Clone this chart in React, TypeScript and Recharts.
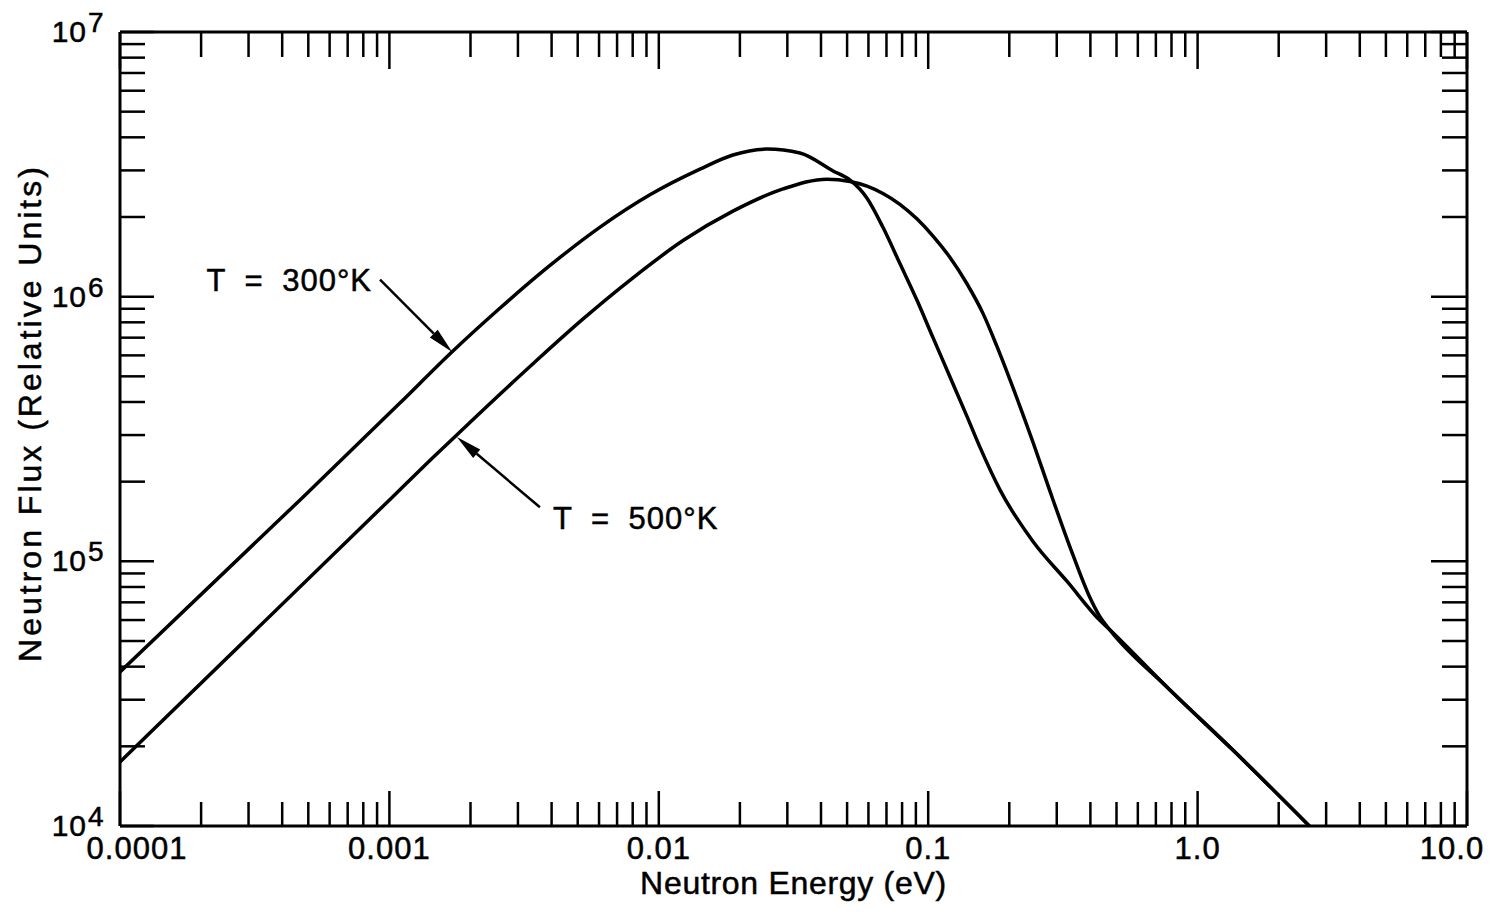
import { LineChart, Line, XAxis, YAxis, ReferenceLine } from 'recharts';

const FONT = '"Liberation Sans", Arial, Helvetica, sans-serif';

// T = 300 K spectrum
const energy300 = [0.0001, 0.000466, 0.001094, 0.001706, 0.002576, 0.003945, 0.006053, 0.00927, 0.01422, 0.01884, 0.02523, 0.03342, 0.04436, 0.05129, 0.05929, 0.06792, 0.07852, 0.09078, 0.1042, 0.1205, 0.1393, 0.1556, 0.1849, 0.2449, 0.3273, 0.4345, 0.4732, 0.7691, 1.352, 2.6];
const flux300 = [3.82e4, 1.706e5, 3.963e5, 6.18e5, 9.06e5, 1.312e6, 1.832e6, 2.427e6, 3.034e6, 3.43e6, 3.61e6, 3.49e6, 2.985e6, 2.754e6, 2.355e6, 1.828e6, 1.334e6, 9.71e5, 7.0e5, 4.97e5, 3.53e5, 2.7e5, 1.858e5, 1.189e5, 8.41e4, 5.97e4, 5.5e4, 3.35e4, 1.936e4, 1.0e4];

// T = 500 K spectrum
const energy500 = [0.0001, 0.001005, 0.001416, 0.001782, 0.003412, 0.005236, 0.008017, 0.0123, 0.01884, 0.02891, 0.04207, 0.05129, 0.05929, 0.06792, 0.07852, 0.09078, 0.1042, 0.1205, 0.1393, 0.16, 0.1795, 0.2014, 0.2449, 0.2831, 0.3443, 0.3936, 0.4345, 0.4732, 0.7691, 1.352, 2.6];
const flux500 = [1.746e4, 1.714e5, 2.407e5, 3.009e5, 5.58e5, 8.24e5, 1.178e6, 1.629e6, 2.104e6, 2.553e6, 2.78e6, 2.723e6, 2.618e6, 2.455e6, 2.234e6, 1.968e6, 1.694e6, 1.406e6, 1.119e6, 8.61e5, 6.53e5, 4.84e5, 2.818e5, 1.841e5, 1.059e5, 7.5e4, 6.17e4, 5.5e4, 3.35e4, 1.936e4, 1.0e4];

const xMajors = [0.0001, 0.001, 0.01, 0.1, 1, 10];
const xMajorLabels = ['0.0001', '0.001', '0.01', '0.1', '1.0', '10.0'];
const yMajors = [1e4, 1e5, 1e6, 1e7];
const yExponents = ['4', '5', '6', '7'];
const multiples = [1, 2, 3, 4, 5, 6, 7, 8, 9];

const xTicks = [...xMajors.slice(0, -1).flatMap(d => multiples.map(m => d * m)), 10];
const yTicks = [...yMajors.slice(0, -1).flatMap(d => multiples.map(m => d * m)), 1e7];

const data300 = energy300.map((energy, i) => ({ energy, flux: flux300[i] }));
const data500 = energy500.map((energy, i) => ({ energy, flux: flux500[i] }));

const majorIndex = (list: number[], v: number) =>
  list.findIndex(m => Math.abs(Math.log10(m) - Math.log10(v)) < 1e-6);

function BottomTick({ x, y, payload }: any) {
  const i = majorIndex(xMajors, payload.value);
  const major = i >= 0;
  const dx = i === 0 ? 17 : i === xMajors.length - 1 ? -15 : 0;
  return (
    <g>
      <line x1={x} y1={y} x2={x} y2={y - (major ? 35 : 24)} stroke="#000" strokeWidth={2.5} />
      {major && (
        <text x={x + dx} y={y + 33} textAnchor="middle" fontSize={31} letterSpacing={1} fontFamily={FONT} fill="#000" stroke="#000" strokeWidth={0.5}>
          {xMajorLabels[i]}
        </text>
      )}
    </g>
  );
}

function TopTick({ x, y, payload }: any) {
  const major = majorIndex(xMajors, payload.value) >= 0;
  return <line x1={x} y1={y} x2={x} y2={y + (major ? 37 : 25)} stroke="#000" strokeWidth={2.5} />;
}

function LeftTick({ x, y, payload }: any) {
  const i = majorIndex(yMajors, payload.value);
  const major = i >= 0;
  return (
    <g>
      <line x1={x} y1={y} x2={x + (major ? 34 : 25)} y2={y} stroke="#000" strokeWidth={2.5} />
      {major && (
        <g fontFamily={FONT} fill="#000" stroke="#000" strokeWidth={0.5}>
          <text x={x - 33} y={y + 10} textAnchor="end" fontSize={30} letterSpacing={1}>10</text>
          <text x={x - 32} y={y} textAnchor="start" fontSize={28}>{yExponents[i]}</text>
        </g>
      )}
    </g>
  );
}

function RightTick({ x, y, payload }: any) {
  const major = majorIndex(yMajors, payload.value) >= 0;
  return <line x1={x} y1={y} x2={x - (major ? 36 : 25)} y2={y} stroke="#000" strokeWidth={2.5} />;
}

function Arrow({ x1, y1, x2, y2, text, textSide }: any) {
  const ang = Math.atan2(y2 - y1, x2 - x1);
  const len = 26;
  const half = 5.5;
  const bx = x2 - len * Math.cos(ang);
  const by = y2 - len * Math.sin(ang);
  const px = -Math.sin(ang) * half;
  const py = Math.cos(ang) * half;
  const left = textSide === 'left';
  return (
    <g>
      <line x1={x1} y1={y1} x2={bx} y2={by} stroke="#000" strokeWidth={2.5} />
      <polygon points={`${x2},${y2} ${bx + px},${by + py} ${bx - px},${by - py}`} fill="#000" />
      <text
        x={left ? x1 - 8 : x1 + 13}
        y={left ? y1 + 11 : y1 + 22}
        textAnchor={left ? 'end' : 'start'}
        fontSize={31}
        letterSpacing={1}
        wordSpacing={9}
        fontFamily={FONT}
        fill="#000"
        stroke="#000"
        strokeWidth={0.5}
      >
        {text}
      </text>
    </g>
  );
}

function YTitle({ viewBox }: any) {
  const cx = viewBox.x + 41;
  const cy = viewBox.y + viewBox.height / 2 - 16;
  return (
    <text transform={`translate(${cx}, ${cy}) rotate(-90)`} textAnchor="middle" fontSize={32} letterSpacing={3} fontFamily={FONT} fill="#000" stroke="#000" strokeWidth={0.5}>
      Neutron Flux (Relative Units)
    </text>
  );
}

function XTitle({ viewBox }: any) {
  return (
    <text x={viewBox.x + viewBox.width / 2} y={viewBox.y + 68} textAnchor="middle" fontSize={32} letterSpacing={0.7} fontFamily={FONT} fill="#000" stroke="#000" strokeWidth={0.5}>
      Neutron Energy (eV)
    </text>
  );
}

export default function App() {
  return (
    <div style={{ position: 'absolute', left: 0, top: 0, width: 1502, height: 914, background: '#fff' }}>
      <LineChart width={1502} height={914} margin={{ top: 30, right: 30, bottom: 0, left: 0 }}>
        <XAxis
          dataKey="energy"
          type="number"
          scale="log"
          domain={[0.0001, 10]}
          allowDataOverflow
          ticks={xTicks}
          interval={0}
          tick={<BottomTick />}
          tickLine={false}
          tickSize={0}
          tickMargin={0}
          axisLine={{ stroke: '#000', strokeWidth: 3 }}
          height={88}
          label={{ content: <XTitle /> }}
        />
        <XAxis
          xAxisId="top"
          orientation="top"
          dataKey="energy"
          type="number"
          scale="log"
          domain={[0.0001, 10]}
          allowDataOverflow
          ticks={xTicks}
          interval={0}
          tick={<TopTick />}
          tickLine={false}
          tickSize={0}
          tickMargin={0}
          axisLine={{ stroke: '#000', strokeWidth: 3 }}
          height={2}
        />
        <YAxis
          type="number"
          scale="log"
          domain={[1e4, 1e7]}
          allowDataOverflow
          ticks={yTicks}
          interval={0}
          tick={<LeftTick />}
          tickLine={false}
          tickSize={0}
          tickMargin={0}
          axisLine={{ stroke: '#000', strokeWidth: 3 }}
          width={120}
          label={{ content: <YTitle /> }}
        />
        <YAxis
          yAxisId="right"
          orientation="right"
          type="number"
          scale="log"
          domain={[1e4, 1e7]}
          allowDataOverflow
          ticks={yTicks}
          interval={0}
          tick={<RightTick />}
          tickLine={false}
          tickSize={0}
          tickMargin={0}
          axisLine={{ stroke: '#000', strokeWidth: 3 }}
          width={5}
        />
        <Line data={data300} dataKey="flux" type="monotone" stroke="#000" strokeWidth={3.5} dot={false} isAnimationActive={false} />
        <Line data={data500} dataKey="flux" type="monotone" stroke="#000" strokeWidth={3.5} dot={false} isAnimationActive={false} />
        <ReferenceLine
          segment={[{ x: 0.000923, y: 1.16e6 }, { x: 0.00171, y: 6.18e5 }]}
          shape={(p: any) => <Arrow {...p} text="T = 300°K" textSide="left" />}
        />
        <ReferenceLine
          segment={[{ x: 0.00362, y: 1.6e5 }, { x: 0.00178, y: 2.95e5 }]}
          shape={(p: any) => <Arrow {...p} text="T = 500°K" textSide="right" />}
        />
      </LineChart>
    </div>
  );
}
